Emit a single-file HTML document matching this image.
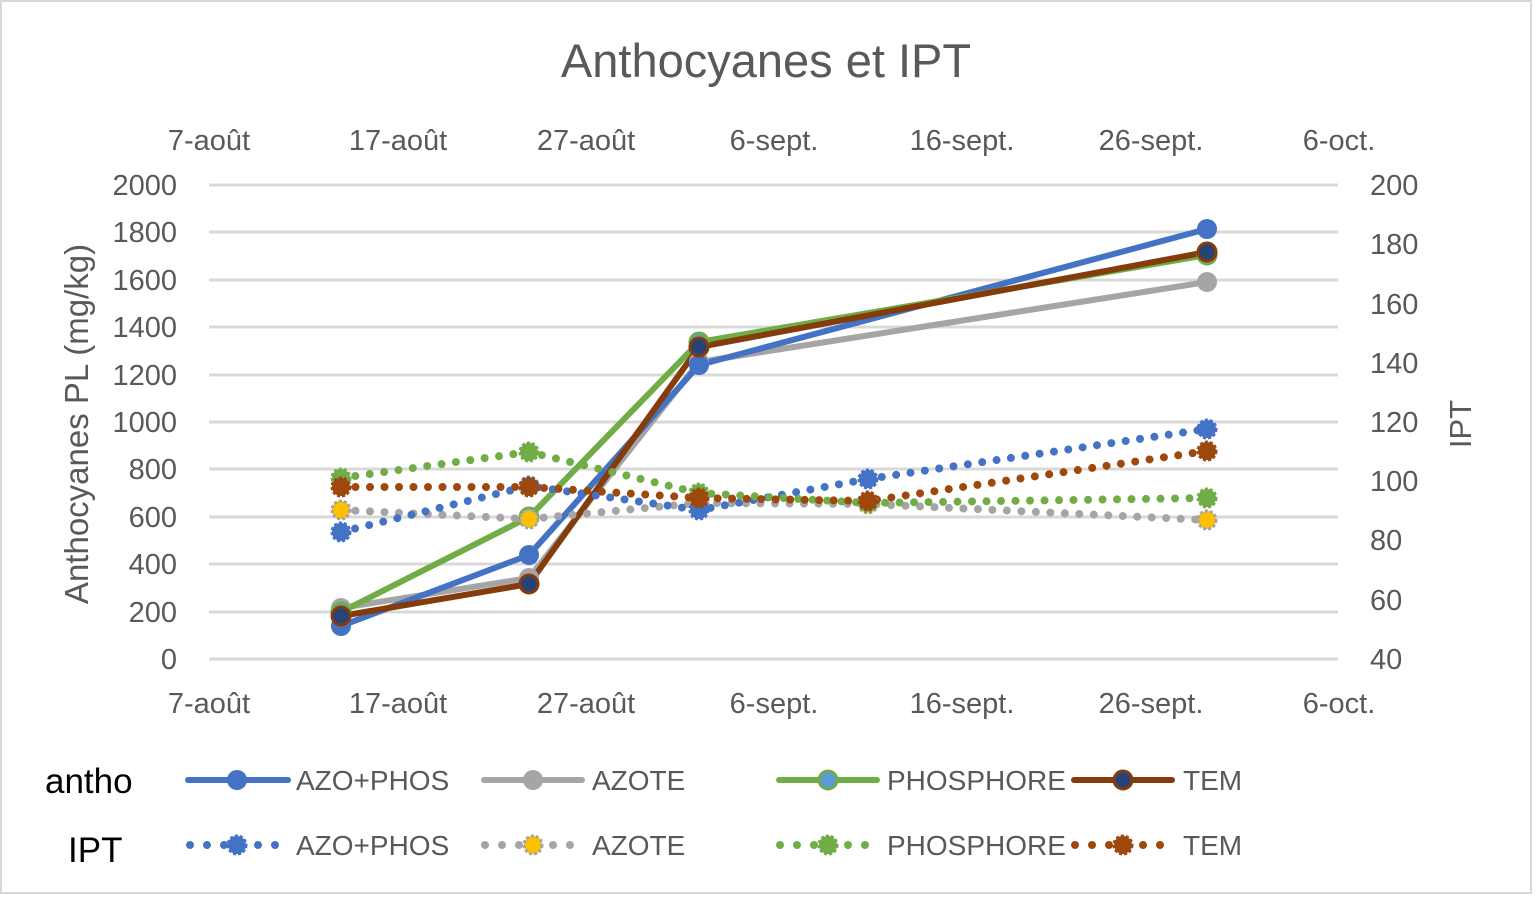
<!DOCTYPE html>
<html><head><meta charset="utf-8"><style>
html,body{margin:0;padding:0;background:#fff;}
svg{display:block;font-family:"Liberation Sans",sans-serif;}
</style></head><body>
<svg width="1536" height="898" viewBox="0 0 1536 898" xmlns="http://www.w3.org/2000/svg">
<rect x="1" y="1" width="1530" height="892" fill="#fff" stroke="#d9d9d9" stroke-width="2"/>
<text x="766" y="77" text-anchor="middle" font-size="47" fill="#595959">Anthocyanes et IPT</text>
<g stroke="#d9d9d9" stroke-width="3">
<line x1="209" x2="1338" y1="185" y2="185"/><line x1="209" x2="1338" y1="232" y2="232"/>
<line x1="209" x2="1338" y1="280" y2="280"/><line x1="209" x2="1338" y1="327" y2="327"/>
<line x1="209" x2="1338" y1="375" y2="375"/><line x1="209" x2="1338" y1="422" y2="422"/>
<line x1="209" x2="1338" y1="469" y2="469"/><line x1="209" x2="1338" y1="517" y2="517"/>
<line x1="209" x2="1338" y1="564" y2="564"/><line x1="209" x2="1338" y1="612" y2="612"/>
<line x1="209" x2="1338" y1="659" y2="659"/>
</g>
<g font-size="29" fill="#595959" text-anchor="end">
<text x="177" y="195">2000</text><text x="177" y="242">1800</text><text x="177" y="290">1600</text>
<text x="177" y="337">1400</text><text x="177" y="385">1200</text><text x="177" y="432">1000</text>
<text x="177" y="479">800</text><text x="177" y="527">600</text><text x="177" y="574">400</text>
<text x="177" y="622">200</text><text x="177" y="669">0</text>
</g>
<g font-size="29" fill="#595959" text-anchor="start">
<text x="1370" y="195">200</text><text x="1370" y="254">180</text><text x="1370" y="314">160</text>
<text x="1370" y="373">140</text><text x="1370" y="432">120</text><text x="1370" y="491">100</text>
<text x="1370" y="550">80</text><text x="1370" y="610">60</text><text x="1370" y="669">40</text>
</g>
<g font-size="29" fill="#595959" text-anchor="middle">
<text x="209" y="150">7-août</text><text x="398" y="150">17-août</text><text x="586" y="150">27-août</text>
<text x="774" y="150">6-sept.</text><text x="962" y="150">16-sept.</text><text x="1151" y="150">26-sept.</text><text x="1339" y="150">6-oct.</text>
<text x="209" y="713">7-août</text><text x="398" y="713">17-août</text><text x="586" y="713">27-août</text>
<text x="774" y="713">6-sept.</text><text x="962" y="713">16-sept.</text><text x="1151" y="713">26-sept.</text><text x="1339" y="713">6-oct.</text>
</g>
<text transform="translate(88,424) rotate(-90)" text-anchor="middle" font-size="33" fill="#595959">Anthocyanes PL (mg/kg)</text>
<text transform="translate(1471,424) rotate(-90)" text-anchor="middle" font-size="31" fill="#595959">IPT</text>
<g fill="none" stroke-width="6" stroke-linejoin="round">
<polyline points="341,608 529,578 699,362 1207,282" stroke="#a5a5a5"/>
<polyline points="341,626 529,555 699,365 1207,229" stroke="#4472c4"/>
<polyline points="341,612 529,517 699,342 1207,255" stroke="#70ad47"/>
<polyline points="341,616 529,584 699,347 1207,252" stroke="#843c0c"/>
</g>
<g fill="#a5a5a5"><circle cx="341" cy="608" r="10"/><circle cx="529" cy="578" r="10"/><circle cx="699" cy="362" r="10"/><circle cx="1207" cy="282" r="10"/></g>
<g fill="#4472c4"><circle cx="341" cy="626" r="10"/><circle cx="529" cy="555" r="10"/><circle cx="699" cy="365" r="10"/><circle cx="1207" cy="229" r="10"/></g>
<g fill="#5b9bd5" stroke="#70ad47" stroke-width="3"><circle cx="341" cy="612" r="9"/><circle cx="529" cy="517" r="9"/><circle cx="699" cy="342" r="9"/><circle cx="1207" cy="255" r="9"/></g>
<g fill="#264478" stroke="#843c0c" stroke-width="3"><circle cx="341" cy="616" r="9"/><circle cx="529" cy="584" r="9"/><circle cx="699" cy="347" r="9"/><circle cx="1207" cy="252" r="9"/></g>
<g fill="none" stroke-width="8" stroke-linecap="round" stroke-dasharray="0 14.5">
<polyline points="341,510 529,519 699,503 868,504 1207,520" stroke="#a5a5a5"/>
<polyline points="341,532 529,486 699,510 868,479 1207,429" stroke="#4472c4"/>
<polyline points="341,478 529,452 699,493 868,503 1207,498" stroke="#70ad47"/>
<polyline points="341,487 529,487 699,498 868,501 1207,451" stroke="#9e480e"/>
</g>
<g stroke-width="3" stroke-dasharray="3 2">
<g fill="#ffc000" stroke="#a5a5a5"><circle cx="341" cy="510" r="9"/><circle cx="529" cy="519" r="9"/><circle cx="699" cy="503" r="9"/><circle cx="868" cy="504" r="9"/><circle cx="1207" cy="520" r="9"/></g>
<g fill="#4472c4" stroke="#4472c4"><circle cx="341" cy="532" r="9"/><circle cx="529" cy="486" r="9"/><circle cx="699" cy="510" r="9"/><circle cx="868" cy="479" r="9"/><circle cx="1207" cy="429" r="9"/></g>
<g fill="#70ad47" stroke="#70ad47"><circle cx="341" cy="478" r="9"/><circle cx="529" cy="452" r="9"/><circle cx="699" cy="493" r="9"/><circle cx="868" cy="503" r="9"/><circle cx="1207" cy="498" r="9"/></g>
<g fill="#9e480e" stroke="#9e480e"><circle cx="341" cy="487" r="9"/><circle cx="529" cy="487" r="9"/><circle cx="699" cy="498" r="9"/><circle cx="868" cy="501" r="9"/><circle cx="1207" cy="451" r="9"/></g>
</g>
<text x="45" y="793" font-size="35" fill="#000">antho</text>
<text x="68" y="862" font-size="35" fill="#000">IPT</text>
<g stroke-width="6" stroke-linecap="round">
<line x1="188" x2="288" y1="780" y2="780" stroke="#4472c4"/>
<line x1="484" x2="582" y1="780" y2="780" stroke="#a5a5a5"/>
<line x1="779" x2="877" y1="780" y2="780" stroke="#70ad47"/>
<line x1="1074" x2="1172" y1="780" y2="780" stroke="#843c0c"/>
</g>
<circle cx="237" cy="780" r="10" fill="#4472c4"/>
<circle cx="533" cy="780" r="10" fill="#a5a5a5"/>
<circle cx="828" cy="780" r="9" fill="#5b9bd5" stroke="#70ad47" stroke-width="3"/>
<circle cx="1123" cy="780" r="9" fill="#264478" stroke="#843c0c" stroke-width="3"/>
<g stroke-width="8" stroke-linecap="round" stroke-dasharray="0 17">
<line x1="190" x2="290" y1="845" y2="845" stroke="#4472c4"/>
<line x1="485" x2="585" y1="845" y2="845" stroke="#a5a5a5"/>
<line x1="780" x2="880" y1="845" y2="845" stroke="#70ad47"/>
<line x1="1075" x2="1175" y1="845" y2="845" stroke="#9e480e"/>
</g>
<g stroke-width="3" stroke-dasharray="3 2">
<circle cx="237" cy="845" r="9" fill="#4472c4" stroke="#4472c4"/>
<circle cx="533" cy="845" r="9" fill="#ffc000" stroke="#a5a5a5"/>
<circle cx="828" cy="845" r="9" fill="#70ad47" stroke="#70ad47"/>
<circle cx="1123" cy="845" r="9" fill="#9e480e" stroke="#9e480e"/>
</g>
<g font-size="28" fill="#595959">
<text x="296" y="790">AZO+PHOS</text><text x="592" y="790">AZOTE</text><text x="887" y="790">PHOSPHORE</text><text x="1183" y="790">TEM</text>
<text x="296" y="855">AZO+PHOS</text><text x="592" y="855">AZOTE</text><text x="887" y="855">PHOSPHORE</text><text x="1183" y="855">TEM</text>
</g>
</svg>
</body></html>
